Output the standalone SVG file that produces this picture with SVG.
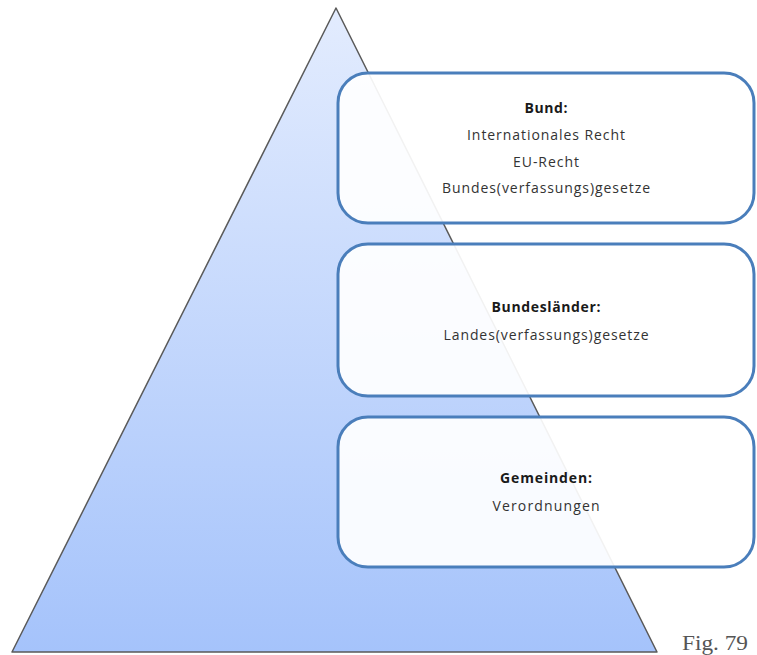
<svg xmlns="http://www.w3.org/2000/svg" width="757" height="655" viewBox="0 0 757 655">
<defs>
<linearGradient id="g" x1="0" y1="0" x2="0" y2="1">
<stop offset="0" stop-color="#e3ecfe"/>
<stop offset="1" stop-color="#a5c3fb"/>
</linearGradient>
<style>
.box{fill:#ffffff;fill-opacity:0.92;stroke:#4a7ebb;stroke-width:3}
.t{font-family:"Open Sans","Liberation Sans",sans-serif;font-size:14px;fill:#333;text-anchor:middle}
.b{font-weight:bold;fill:#1a1a1a}
</style>
</defs>
<rect width="757" height="655" fill="#ffffff"/>
<g id="pyramid">
<polygon points="336,8 12,652 657,652" fill="url(#g)" stroke="#5a5a5a" stroke-width="1.5" stroke-linejoin="round"/>
</g>
<g id="connectors"></g>
<g id="bund">
<rect class="box" x="338" y="73" width="416" height="150" rx="30" ry="30"/>
<text class="t b" x="546" y="113" textLength="43" lengthAdjust="spacing">Bund:</text>
<text class="t" x="546" y="140" textLength="158" lengthAdjust="spacing">Internationales Recht</text>
<text class="t" x="546" y="167" textLength="66" lengthAdjust="spacing">EU-Recht</text>
<text class="t" x="546" y="193" textLength="208" lengthAdjust="spacing">Bundes(verfassungs)gesetze</text>
</g>
<g id="bundeslaender">
<rect class="box" x="338" y="244" width="416" height="152" rx="30" ry="30"/>
<text class="t b" x="546" y="312" textLength="109" lengthAdjust="spacing">Bundesländer:</text>
<text class="t" x="546" y="340" textLength="205" lengthAdjust="spacing">Landes(verfassungs)gesetze</text>
</g>
<g id="gemeinden">
<rect class="box" x="338" y="417" width="416" height="150" rx="30" ry="30"/>
<text class="t b" x="546" y="483" textLength="92" lengthAdjust="spacing">Gemeinden:</text>
<text class="t" x="546" y="511" textLength="107" lengthAdjust="spacing">Verordnungen</text>
</g>
<text x="682" y="650" font-family="Liberation Serif,serif" font-size="21" fill="#555" textLength="66" lengthAdjust="spacingAndGlyphs">Fig. 79</text>
</svg>
